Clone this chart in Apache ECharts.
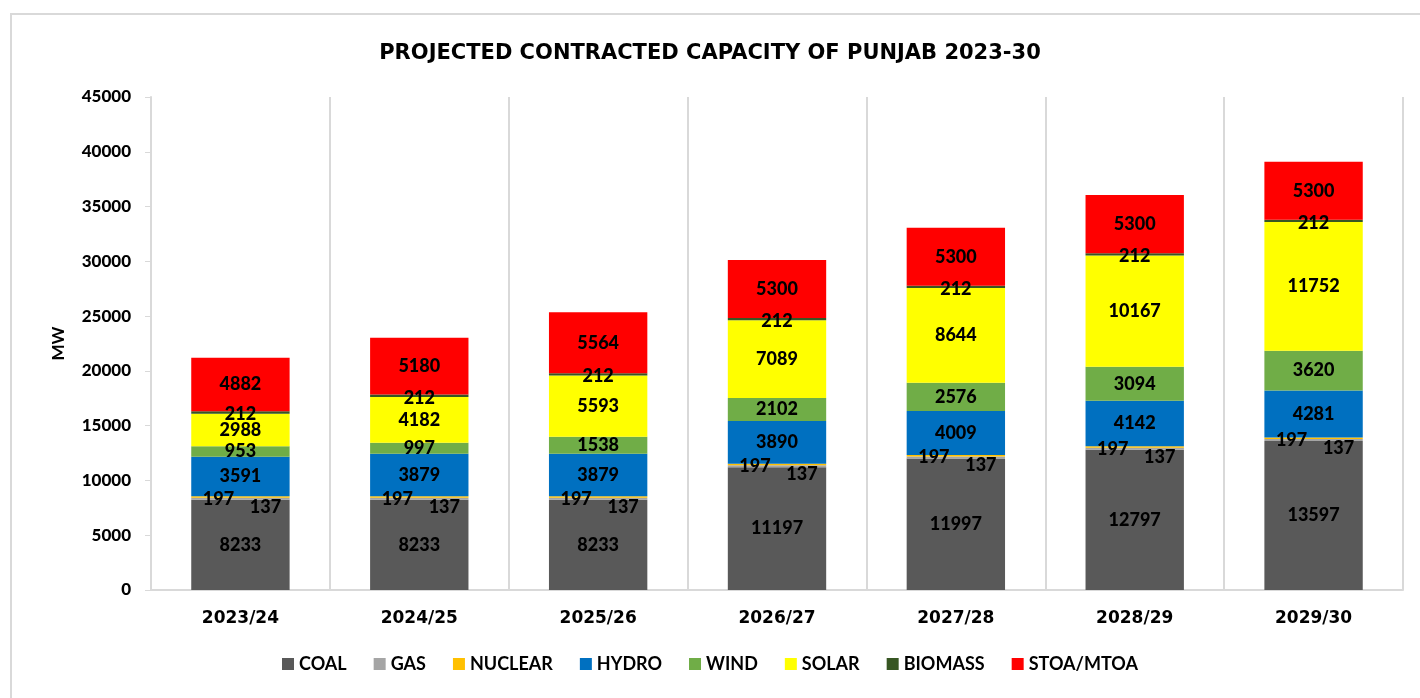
<!DOCTYPE html>
<html>
<head>
<meta charset="utf-8">
<script src="https://cdn.jsdelivr.net/npm/echarts@6/dist/echarts.min.js"></script>
<style>
	html, body {margin: 0; padding: 0; background: #fff;}
	#frame {position: absolute; left: 10px; top: 13px; width: 1420px; height: 700px; border: 2px solid #d9d9d9; box-sizing: border-box;}
	#chart {position: absolute; left: 0; top: 0; width: 1420px; height: 698px;}
</style>
</head>
<body>
<div id="frame"></div>
<div id="chart"></div>
<script>
	const years = ['2023/24', '2024/25', '2025/26', '2026/27', '2027/28', '2028/29', '2029/30'];
	const coal = [8233, 8233, 8233, 11197, 11997, 12797, 13597];
	const gas = [197, 197, 197, 197, 197, 197, 197];
	const nuclear = [137, 137, 137, 137, 137, 137, 137];
	const hydro = [3591, 3879, 3879, 3890, 4009, 4142, 4281];
	const wind = [953, 997, 1538, 2102, 2576, 3094, 3620];
	const solar = [2988, 4182, 5593, 7089, 8644, 10167, 11752];
	const biomass = [212, 212, 212, 212, 212, 212, 212];
	const stoa = [4882, 5180, 5564, 5300, 5300, 5300, 5300];

	const font = 'Lato, "Open Sans", sans-serif';

	//one stacked bar series
	function bar(name, data, color, labelOffset) {
		return {
			name: name,
			type: 'bar',
			stack: 'total',
			barWidth: '55%',
			data: data,
			itemStyle: {color: color},
			label: {
				show: true,
				position: 'inside',
				offset: labelOffset || [0, 0],
				color: '#000',
				fontFamily: font,
				fontWeight: 900,
				fontSize: 18
			}
		};
	}

	const chart = echarts.init(document.getElementById('chart'));
	const option = {
		animation: false,
		title: {
			text: 'PROJECTED CONTRACTED CAPACITY OF PUNJAB 2023-30',
			left: 'center',
			top: 38,
			textStyle: {fontFamily: '"DejaVu Sans", sans-serif', fontWeight: 'bold', fontSize: 21, color: '#000'}
		},
		legend: {
			bottom: 20,
			left: 'center',
			itemWidth: 12,
			itemHeight: 12,
			itemGap: 27,
			icon: 'rect',
			textStyle: {fontFamily: font, fontWeight: 'bold', fontSize: 18, color: '#000'}
		},
		grid: {left: 151, right: 17, top: 97, bottom: 108},
		xAxis: {
			type: 'category',
			data: years,
			axisLine: {lineStyle: {color: '#d9d9d9', width: 2}},
			axisTick: {show: false},
			splitLine: {show: true, lineStyle: {color: '#d9d9d9', width: 2}},
			axisLabel: {margin: 20, color: '#000', fontFamily: '"DejaVu Sans", sans-serif', fontWeight: 'bold', fontSize: 17}
		},
		yAxis: {
			type: 'value',
			min: 0,
			max: 45000,
			interval: 5000,
			name: 'MW',
			nameLocation: 'middle',
			nameGap: 84,
			nameTextStyle: {fontFamily: font, fontWeight: 'bold', fontSize: 17, color: '#000'},
			axisLine: {show: true, lineStyle: {color: '#d9d9d9', width: 2}},
			axisTick: {show: true, length: 6, lineStyle: {color: '#d9d9d9'}},
			splitLine: {show: false},
			axisLabel: {margin: 20, color: '#000', fontFamily: font, fontWeight: 900, fontSize: 17, formatter: function (v) { return String(v); }}
		},
		series: [
			bar('COAL', coal, '#595959'),
			bar('GAS', gas, '#a5a5a5', [-22, 0]),
			bar('NUCLEAR', nuclear, '#ffc000', [25, 10]),
			bar('HYDRO', hydro, '#0070c0'),
			bar('WIND', wind, '#70ad47'),
			bar('SOLAR', solar, '#ffff00'),
			bar('BIOMASS', biomass, '#375623', [0, 2]),
			bar('STOA/MTOA', stoa, '#ff0000')
		]
	};
	chart.setOption(option);
</script>
</body>
</html>
